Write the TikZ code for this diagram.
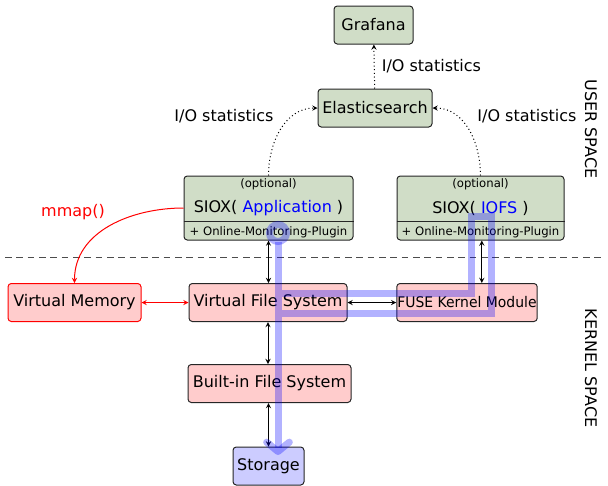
\documentclass[tikz,border=0pt]{standalone}
\usepackage{fontspec}
\setmainfont{DejaVu Sans}
\usepackage{xcolor}
\usetikzlibrary{arrows,arrows.meta}
\definecolor{usergreen}{RGB}{208,221,199}
\definecolor{kernelpink}{RGB}{255,204,204}
\definecolor{diskblue}{RGB}{204,204,255}

\begin{document}
\begin{tikzpicture}[x=0.75pt, y=-0.75pt]
    % Styles for boxes and lines
    \tikzstyle{box} = [rectangle, rounded corners=2.5pt, draw=black!85, line width=0.75pt, align=center, minimum height=28.5pt, inner sep=2pt, font=\fontsize{12}{14}\selectfont]
    \tikzstyle{user} = [box, fill=usergreen]
    \tikzstyle{kernel} = [box, fill=kernelpink]
    \tikzstyle{small} = [font=\fontsize{8.75}{10}\selectfont, inner sep=2.5pt]
    \tikzstyle{txt} = [font=\fontsize{12}{14}\selectfont]
    \tikzstyle{arrow} = [line width=0.75pt, <->, >=stealth]
    \tikzstyle{stat} = [line width=0.75pt, dotted, ->, >=stealth]
    \tikzstyle{flow} = [line width=5.25pt, draw=blue, draw opacity=0.3]

    \useasboundingbox (0,0) rectangle (608,486);

  % User space
    \node[user, minimum width=59.25pt] (grafana) at (373.5,25) {Grafana};
    \node[user, minimum width=85.5pt] (elastic) at (375,108) {Elasticsearch};
    \node[user, minimum width=126.75pt, minimum height=48pt] (app) at (268.5,208) {SIOX( \textcolor{blue}{Application} )};
    \node[user, minimum width=125.25pt, minimum height=48pt] (iofs) at (480.5,208) {SIOX( \textcolor{blue}{IOFS} )};
    \node[small, below] (appopt) at (app.north) {(optional)};
    \node[small, above, inner sep=1.5pt] (appplugin) at (app.south) {+ Online-Monitoring-Plugin};
    \node[small, below] (iofsopt) at (iofs.north) {(optional)};
    \node[small, above, inner sep=1.5pt] (iofsplugin) at (iofs.south) {+ Online-Monitoring-Plugin};
    \draw[line width=0.75pt, black!85] ([yshift=14.25pt]app.south west) -- ([yshift=14.25pt]app.south east);
    \draw[line width=0.75pt, black!85] ([yshift=14.25pt]iofs.south west) -- ([yshift=14.25pt]iofs.south east);

  % Kernel space
    \node[kernel, draw=red, minimum width=99.75pt] (vm) at (74.5,302.5) {Virtual Memory};
    \node[kernel, minimum width=118.5pt] (vfs) at (268,302.5) {Virtual File System};
    \node[kernel, minimum width=105pt, inner xsep=0.5pt, font=\fontsize{11}{13}\selectfont] (fuse) at (467,302.5) {\scalebox{0.95}[1]{FUSE Kernel Module}};
    \node[kernel, minimum width=122.25pt] (bfs) at (269.5,383.5) {Built-in File System};
    \node[box, fill=diskblue, minimum width=53.25pt] (storage) at (268.5,466) {Storage};

  % Border between the spaces
    \draw[line width=0.75pt, black!70, dash pattern=on 5pt off 3.5pt] (5,257) -- (605,257);
    \node[txt, rotate=-90] (userspace) at (591,129) {USER SPACE};
    \node[txt, rotate=-90] (kernelspace) at (591,368) {KERNEL SPACE};

  % Statistics
    \draw[stat] (elastic) -- (grafana) node[midway, right, txt, xshift=2pt] {I/O statistics};
    \draw[stat] (app.north) to[out=90, in=180] (elastic.west);
    \draw[stat] (iofs.north) to[out=90, in=0] (elastic.east);
    \node[txt] (statleft) at (224,116) {I/O statistics};
    \node[txt] (statright) at (527,116) {I/O statistics};

  % Calls
    \draw[arrow] (app.south) -- (app.south |- vfs.north);
    \draw[arrow] ([xshift=1pt]iofs.south) -- ([xshift=1pt]iofs.south |- fuse.north);
    \draw[arrow] (vfs) -- (fuse);
    \draw[arrow] (vfs.south) -- (vfs.south |- bfs.north);
    \draw[arrow] (storage.north |- bfs.south) -- (storage.north);
    \draw[red, line width=0.75pt, ->, >=stealth] (app.west) to[out=180, in=90] (vm.north);
    \node[txt, text=red] (mmap) at (73,212) {mmap()};
    \draw[arrow, red] (vm) -- (vfs);

  % Path of one request
    \draw[flow] (278,233) circle[radius=8.5];
    \draw[flow, -{Straight Barb[length=7pt, width=17pt, round]}]
        (278,293) -- (471.5,293) -- (471.5,216) -- (491.5,216) -- (491.5,313) -- (278,313)
        (278,241.5) -- (278,455);

\end{tikzpicture}
\end{document}
